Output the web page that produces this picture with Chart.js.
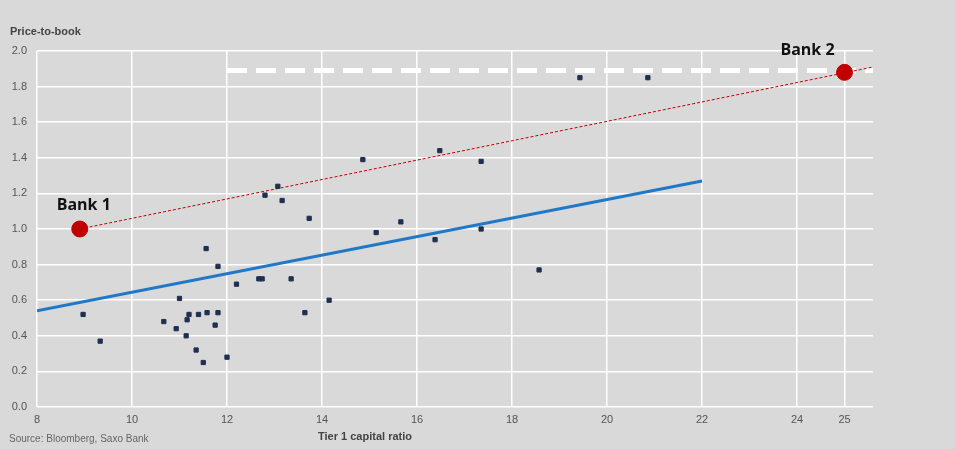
<!DOCTYPE html>
<html><head><meta charset="utf-8">
<script src="https://cdn.jsdelivr.net/npm/chart.js@4"></script>
<style>html,body{margin:0;padding:0;background:#d9d9d9;}#w{width:955px;height:449px;}</style>
</head><body><div id="w"><canvas id="c"></canvas></div>
<script>
const xTicks=[8,10,12,14,16,18,20,22,24,25];
const yTicks=[0,0.2,0.4,0.6,0.8,1.0,1.2,1.4,1.6,1.8,2.0];
const bankX=[8.97,9.33,10.67,10.93,11.0,11.14,11.16,11.2,11.35,11.4,11.5,11.56,11.58,11.75,11.81,11.81,12.0,12.2,12.67,12.74,12.8,13.07,13.16,13.35,13.64,13.73,14.15,14.86,15.14,15.66,16.38,16.48,17.35,17.35,18.57,19.43,20.86];
const bankY=[0.52,0.37,0.48,0.44,0.61,0.40,0.49,0.52,0.32,0.52,0.25,0.89,0.53,0.46,0.79,0.53,0.28,0.69,0.72,0.72,1.19,1.24,1.16,0.72,0.53,1.06,0.60,1.39,0.98,1.04,0.94,1.44,1.38,1.00,0.77,1.85,1.85];
const trendX=[8,22], trendY=[0.54,1.27];
const highlightNames=["Bank 1","Bank 2"], highlightX=[8.9,25], highlightY=[1.0,1.88];
const redLineX=[8.9,25.6], redLineY=[1.0,1.91];
const whiteLineX=[12,25.6], whiteLineY=[1.89,1.89];
const pts=(xs,ys)=>xs.map((x,i)=>({x,y:ys[i]}));
const labels={id:'labels',afterDraw(ch){const c=ch.ctx,xs=ch.scales.x,ys=ch.scales.y;c.save();
c.font='bold 16px "Open Sans",sans-serif';c.fillStyle='#111';c.textAlign='center';c.textBaseline='bottom';
c.fillText(highlightNames[0],xs.getPixelForValue(highlightX[0])+4,ys.getPixelForValue(highlightY[0])-16);
c.fillText(highlightNames[1],xs.getPixelForValue(highlightX[1])-37,ys.getPixelForValue(highlightY[1])-14);
c.font='bold 11px "Liberation Sans Narrow","Liberation Sans",sans-serif';c.fillStyle='#444';c.textAlign='left';c.textBaseline='middle';
c.fillText('Price-to-book',10,32);
c.textAlign='center';c.fillText('Tier 1 capital ratio',365,437);
c.font='10px "Liberation Sans Narrow","Liberation Sans",sans-serif';c.fillStyle='#666';c.textAlign='left';
c.fillText('Source: Bloomberg, Saxo Bank',9,439);
c.restore();}};
new Chart(document.getElementById('c'),{type:'scatter',data:{datasets:[
{data:pts(whiteLineX,whiteLineY),showLine:true,borderColor:'#ffffff',borderWidth:5,borderDash:[20,9],pointRadius:0,order:5},
{data:pts(redLineX,redLineY),showLine:true,borderColor:'#c00000',borderWidth:1,borderDash:[3,2],pointRadius:0,order:4},
{data:pts(trendX,trendY),showLine:true,borderColor:'#1f78c8',borderWidth:3,pointRadius:0,order:3},
{data:pts(bankX,bankY),pointStyle:'rect',pointRadius:3,backgroundColor:'#1f2f4f',borderColor:'#1f2f4f',order:2},
{data:pts(highlightX,highlightY),pointRadius:8,backgroundColor:'#c00000',borderColor:'#c00000',order:1}
]},options:{animation:false,responsive:true,maintainAspectRatio:false,
layout:{padding:{left:0,right:82,top:51,bottom:2}},
plugins:{legend:{display:false},tooltip:{enabled:false}},
scales:{x:{type:'linear',min:8,max:25.6,afterBuildTicks:a=>{a.ticks=xTicks.map(v=>({value:v}));},
grid:{color:'#ffffff',lineWidth:1.5,drawTicks:false},border:{display:false},
ticks:{padding:6,color:'#555',font:{size:11,family:'"Liberation Sans Narrow","Liberation Sans",sans-serif'},autoSkip:false,maxRotation:0},
afterFit:s=>{s.height=40;}},
y:{min:0,max:2,afterBuildTicks:a=>{a.ticks=yTicks.map(v=>({value:v}));},
grid:{color:'#ffffff',lineWidth:1.5,drawTicks:false},border:{display:false},
ticks:{padding:10,color:'#555',callback:v=>v.toFixed(1),font:{size:11,family:'"Liberation Sans Narrow","Liberation Sans",sans-serif'}},
afterFit:s=>{s.width=37;}}}},plugins:[labels]});
</script></body></html>
